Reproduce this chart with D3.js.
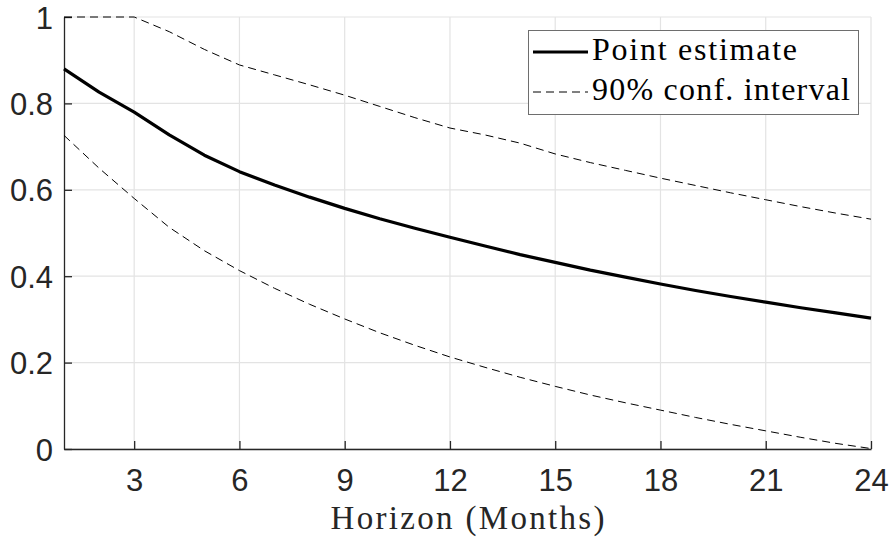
<!DOCTYPE html>
<html>
<head>
<meta charset="utf-8">
<script src="https://cdn.jsdelivr.net/npm/d3@7/dist/d3.min.js"></script>
<style>
  html, body { margin: 0; padding: 0; background: #fff; }
  svg { display: block; }
  .serif { font-family: "Liberation Serif", "DejaVu Serif", "Noto Serif", Tinos, "Nimbus Roman", "Nimbus Roman No9 L", FreeSerif, "Times New Roman", Times, Georgia, "Noto Serif CJK SC", serif; }
  .sans { font-family: "Liberation Sans", Arial, Helvetica, sans-serif; }
</style>
</head>
<body>
<svg id="chart" width="891" height="540"></svg>
<script>
// Impulse response over the horizon, with its 90% confidence band
const months = d3.range(1, 25);
const pointEstimate = [0.880, 0.826, 0.780, 0.727, 0.680, 0.642, 0.611, 0.583, 0.557, 0.533, 0.511, 0.490,
                       0.470, 0.450, 0.432, 0.414, 0.398, 0.382, 0.367, 0.353, 0.340, 0.327, 0.315, 0.303];
const upperBand = [1.000, 1.000, 1.000, 0.966, 0.925, 0.889, 0.866, 0.843, 0.819, 0.793, 0.767, 0.743,
                   0.727, 0.708, 0.683, 0.663, 0.645, 0.627, 0.610, 0.593, 0.577, 0.561, 0.546, 0.532];
const lowerBand = [0.726, 0.650, 0.580, 0.513, 0.459, 0.413, 0.372, 0.335, 0.301, 0.269, 0.240, 0.213,
                   0.189, 0.166, 0.145, 0.125, 0.107, 0.090, 0.073, 0.057, 0.042, 0.027, 0.013, 0.001];
const xTicks = [3, 6, 9, 12, 15, 18, 21, 24];
const yTicks = [0, 0.2, 0.4, 0.6, 0.8, 1];
const yTickLabels = ["0", "0.2", "0.4", "0.6", "0.8", "1"];
const legendLabels = ["Point estimate", "90% conf. interval"];
const xTitle = "Horizon (Months)";

const svg = d3.select("#chart");
const plot = { left: 64, right: 871, top: 17, bottom: 449 };

const x = d3.scaleLinear().domain([1, 24]).range([plot.left, plot.right]);
const y = d3.scaleLinear().domain([0, 1]).range([plot.bottom, plot.top]);

const axisColor = "#262626";
const gridColor = "#e3e3e3";

// grid
const grid = svg.append("g");
grid.selectAll("line.gx").data(xTicks).join("line")
  .attr("x1", d => x(d)).attr("x2", d => x(d))
  .attr("y1", plot.top).attr("y2", plot.bottom)
  .attr("stroke", gridColor).attr("stroke-width", 1.2);
grid.selectAll("line.gy").data(yTicks).join("line")
  .attr("x1", plot.left).attr("x2", plot.right)
  .attr("y1", d => y(d)).attr("y2", d => y(d))
  .attr("stroke", gridColor).attr("stroke-width", 1.2);

// axes with inward ticks
const xAxis = d3.axisBottom(x).tickValues(xTicks).tickSizeInner(-8).tickSizeOuter(0).tickPadding(20)
  .tickFormat(d3.format("d"));
const yAxis = d3.axisLeft(y).tickValues(yTicks).tickSizeInner(-8).tickSizeOuter(0).tickPadding(11)
  .tickFormat((d, i) => yTickLabels[i]);

const gx = svg.append("g").attr("transform", `translate(0,${plot.bottom})`).call(xAxis);
const gy = svg.append("g").attr("transform", `translate(${plot.left},0)`).call(yAxis);
[gx, gy].forEach(g => {
  g.attr("font-family", null).attr("font-size", null);
  g.select(".domain").attr("stroke", axisColor).attr("stroke-width", 1.3);
  g.selectAll(".tick line").attr("stroke", axisColor).attr("stroke-width", 1.3);
  g.selectAll(".tick text")
    .attr("class", "sans")
    .attr("fill", axisColor)
    .style("font-size", "31px");
});
gx.selectAll(".tick text").attr("dy", "0.71em");
gy.selectAll(".tick text").attr("dy", "0.36em");

// series
const line = d3.line().x((d, i) => x(months[i])).y(d => y(d));
const series = svg.append("g");
series.append("path").datum(upperBand).attr("d", line)
  .attr("fill", "none").attr("stroke", "#000").attr("stroke-width", 1)
  .attr("stroke-dasharray", "8,5");
series.append("path").datum(lowerBand).attr("d", line)
  .attr("fill", "none").attr("stroke", "#000").attr("stroke-width", 1)
  .attr("stroke-dasharray", "8,5");
series.append("path").datum(pointEstimate).attr("d", line)
  .attr("fill", "none").attr("stroke", "#000").attr("stroke-width", 3.2)
  .attr("stroke-linejoin", "round");

// x title
svg.append("text")
  .attr("class", "serif")
  .attr("x", (plot.left + plot.right) / 2).attr("y", 529)
  .attr("text-anchor", "middle")
  .style("font-size", "33px")
  .attr("fill", axisColor)
  .attr("textLength", 274).attr("lengthAdjust", "spacing")
  .text(xTitle);

// legend
const legend = svg.append("g");
legend.append("rect")
  .attr("x", 528.5).attr("y", 30.5).attr("width", 330).attr("height", 84)
  .attr("fill", "#fff").attr("stroke", "#6e6e6e").attr("stroke-width", 1);
const rows = [
  { label: legendLabels[0], width: 3.2, dash: null, ly: 52, ty: 60, len: 205 },
  { label: legendLabels[1], width: 1, dash: "8,5", ly: 92, ty: 100, len: 258 }
];
rows.forEach(r => {
  legend.append("line")
    .attr("x1", 533).attr("x2", 588).attr("y1", r.ly).attr("y2", r.ly)
    .attr("stroke", "#000").attr("stroke-width", r.width)
    .attr("stroke-dasharray", r.dash);
  legend.append("text")
    .attr("class", "serif")
    .attr("x", 592).attr("y", r.ty)
    .style("font-size", "32px")
    .attr("fill", "#000")
    .attr("textLength", r.len).attr("lengthAdjust", "spacing")
    .text(r.label);
});
</script>
</body>
</html>
